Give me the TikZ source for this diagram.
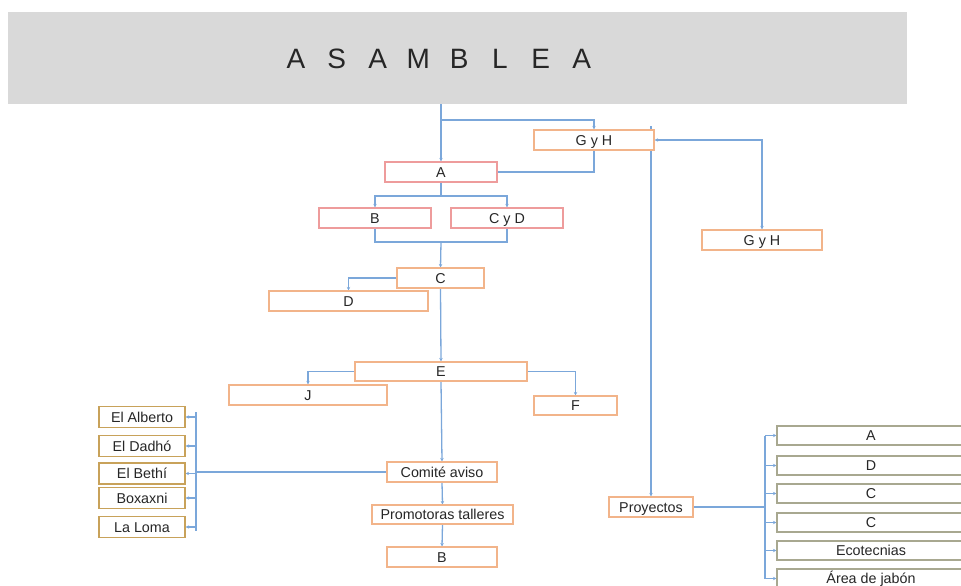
\documentclass[tikz,border=0pt]{standalone}
\usepackage{fontspec}
\setmainfont{Liberation Sans}
\usetikzlibrary{arrows.meta,backgrounds,calc}

\definecolor{hdrgray}{HTML}{D9D9D9}
\definecolor{pinkline}{HTML}{EE9C9C}
\definecolor{peach}{HTML}{F2B48A}
\definecolor{tan}{HTML}{C8A25A}
\definecolor{olive}{HTML}{A8A890}
\definecolor{link}{HTML}{7BA7DA}
\definecolor{ink}{HTML}{262626}

\tikzset{
  box/.style={draw, fill=white, line width=1.1pt, minimum height=20pt,
    inner sep=0pt, text=ink, font=\fontsize{14.3}{16}\selectfont,
    text height=10.2pt, text depth=0pt},
  pinkbox/.style={box, draw=pinkline},
  peachbox/.style={box, draw=peach},
  tanbox/.style={box, draw=tan, minimum height=21pt},
  olivebox/.style={box, draw=olive, minimum height=19pt},
  conn/.style={draw=link, line width=1.3pt},
  arr/.style={conn, -{Stealth[length=3.5pt,width=3.5pt]}},
  letter/.style={text=ink, inner sep=0pt, font=\fontsize{28}{30}\selectfont}
}

\begin{document}
\begin{tikzpicture}[x=1pt, y=-1pt]
\useasboundingbox (0,0) rectangle (961,586);

% header band with the spaced title
\node[fill=hdrgray, minimum width=899pt, minimum height=92pt, inner sep=0pt] (hdr) at (457.5,58) {};
\foreach \ch [count=\i] in {A,S,A,M,B,L,E,A}
  \node[letter] (t\i) at ({296+40.8*(\i-1)},58.5) {\ch};

% central column
\node[pinkbox, minimum width=112pt] (a) at (441,172) {A};
\node[peachbox, minimum width=120pt] (gh1) at (594,140) {G y H};
\node[peachbox, minimum width=120pt] (gh2) at (762,240) {G y H};
\node[pinkbox, minimum width=112pt] (b1) at (375,218) {B};
\node[pinkbox, minimum width=112pt] (cd) at (507,218) {C y D};
\node[peachbox, minimum width=87pt] (c1) at (440.5,278) {C};
\node[peachbox, minimum width=159pt] (d1) at (348.5,301) {D};
\node[peachbox, minimum width=172pt, minimum height=19pt] (e) at (441,371.5) {E};
\node[peachbox, minimum width=158pt] (j) at (308,395) {J};
\node[peachbox, minimum width=83pt, minimum height=19pt] (f) at (575.5,405.5) {F};
\node[peachbox, minimum width=110pt] (com) at (442,472) {Comité aviso};
\node[peachbox, minimum width=141pt, minimum height=19pt] (prom) at (442.5,514.5) {Promotoras talleres};
\node[peachbox, minimum width=110pt] (b2) at (442,557) {B};

% communities on the left
\node[tanbox, minimum width=86pt] (lb1) at (142,417) {El Alberto};
\node[tanbox, minimum width=86pt] (lb2) at (142,446) {El Dadhó};
\node[tanbox, minimum width=86pt] (lb3) at (142,473.5) {El Bethí};
\node[tanbox, minimum width=86pt] (lb4) at (142,498) {Boxaxni};
\node[tanbox, minimum width=86pt] (lb5) at (142,527) {La Loma};

% projects on the right
\node[peachbox, minimum width=84pt] (pro) at (651,507) {Proyectos};
\node[olivebox, minimum width=188pt] (p1) at (871,435.5) {A};
\node[olivebox, minimum width=188pt] (p2) at (871,465.5) {D};
\node[olivebox, minimum width=188pt] (p3) at (871,493.5) {C};
\node[olivebox, minimum width=188pt] (p4) at (871,522.5) {C};
\node[olivebox, minimum width=188pt] (p5) at (871,550.5) {Ecotecnias};
\node[olivebox, minimum width=188pt] (p6) at (871,578.5) {Área de jabón};

% junction points of the branching lines
\coordinate (j1) at (441,120);
\coordinate (j2) at (441,196);
\coordinate (j3) at (441,242);
\coordinate (lx) at (196,0);
\coordinate (rx) at (765,0);

\begin{pgfonlayer}{background}
  % Asamblea down to A and to G y H
  \draw[arr] (a.north |- hdr.south) -- (a.north);
  \draw[arr] (j1) -| (gh1.north);
  \draw[conn] (gh1.south) |- (a.east);
  % G y H pair
  \draw[conn, {Stealth[length=3.5pt,width=3.5pt]}-{Stealth[length=3.5pt,width=3.5pt]}] (gh1.east) -| (gh2.north);
  \draw[arr] ($(gh1.north -| pro.north)+(0,-3)$) -- (pro.north);
  % A to B and C y D, then joined into C
  \draw[conn] (a.south) -- (j2);
  \draw[arr] (j2) -| (b1.north);
  \draw[arr] (j2) -| (cd.north);
  \draw[conn] (b1.south) |- (j3);
  \draw[conn] (cd.south) |- (j3);
  \draw[arr] (j3) -- (c1.north);
  \draw[arr] (c1.west) -| (d1.north);
  \draw[arr] (c1.south) -- (e.north);
  \draw[arr] (e.west) -| (j.north);
  \draw[arr] (e.east) -| (f.north);
  \draw[arr] (e.south) -- (com.north);
  \draw[arr] (com.south) -- (prom.north);
  \draw[arr] (prom.south) -- (b2.north);
  % Comité aviso to the communities
  \draw[conn] (com.west) -- (com.west -| lx);
  \draw[conn] ($(lb1.east -| lx)+(0,-5)$) -- ($(lb5.east -| lx)+(0,4)$);
  \foreach \k in {1,...,5}
    \draw[arr] (lb\k.east -| lx) -- (lb\k.east);
  % Proyectos to the projects
  \draw[conn] (pro.east) -- (pro.east -| rx);
  \draw[conn] (p1.west -| rx) -- (p6.west -| rx);
  \foreach \k in {1,...,6}
    \draw[arr] (p\k.west -| rx) -- (p\k.west);
\end{pgfonlayer}
\end{tikzpicture}
\end{document}
